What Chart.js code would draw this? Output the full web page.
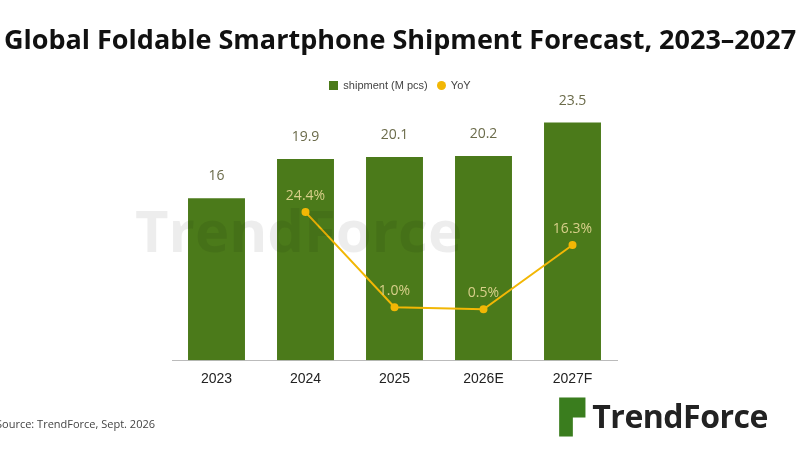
<!DOCTYPE html>
<html>
<head>
<meta charset="UTF-8">
<title>Global Foldable Smartphone Shipment Forecast</title>
<script src="https://cdn.jsdelivr.net/npm/chart.js@4"></script>
<style>
	body { margin: 0; background: #fff; font-family: "Open Sans", sans-serif; }
	#wrap { position: relative; width: 800px; height: 450px; overflow: hidden; }
	#title { position: absolute; top: 20px; left: -20px; width: 840px; text-align: center; font-size: 27px; font-weight: bold; color: #111; white-space: nowrap; }
	#legend { position: absolute; top: 79px; left: 0; width: 800px; text-align: center; font-size: 11px; color: #444; font-family: "Liberation Sans", sans-serif; }
	#legend i { display: inline-block; width: 9px; height: 9px; margin: 0 5px -1px 0; }
	#source { position: absolute; left: -4px; top: 416px; font-size: 11px; color: #444; }
	#logo { position: absolute; left: 560px; top: 394px; font-size: 32px; font-weight: bold; color: #222; letter-spacing: -0.5px; }
	#logo span { color: #3a7d1e; }
	#mark { position: absolute; left: 135px; top: 190px; font-size: 58px; font-weight: bold; color: rgba(0,0,0,0.07); }
</style>
</head>
<body>
<div id="wrap">
	<div id="title">Global Foldable Smartphone Shipment Forecast, 2023–2027</div>
	<div id="legend"><i style="background:#4b7a1a"></i>shipment (M pcs) &nbsp; <i style="background:#f2b705;border-radius:50%"></i>YoY</div>
	<div id="mark">TrendForce</div>
	<canvas id="chart-area" width="800" height="450"></canvas>
	<div id="source">Source: TrendForce, Sept. 2026</div>
	<div id="logo"><span>▛</span> TrendForce</div>
</div>
<script>
	var years = ['2023', '2024', '2025', '2026E', '2027F'];
	var shipment = [16, 19.9, 20.1, 20.2, 23.5];
	var yoy = [null, 24.4, 1.0, 0.5, 16.3];

	var labelPlugin = {
		id: 'labels',
		afterDatasetsDraw: function (chart) {
			var ctx = chart.ctx;
			ctx.save();
			ctx.textAlign = 'center';
			ctx.font = '14px "Open Sans"';
			chart.getDatasetMeta(1).data.forEach(function (b, i) {
				ctx.fillStyle = '#6b6b4a';
				ctx.fillText(shipment[i], b.x, b.y - 18);
			});
			chart.getDatasetMeta(0).data.forEach(function (p, i) {
				if (yoy[i] == null) return;
				ctx.fillStyle = '#d8cf8a';
				ctx.fillText(yoy[i].toFixed(1) + '%', p.x, p.y - 12);
			});
			ctx.restore();
		}
	};

	window.onload = function () {
		var ctx = document.getElementById('chart-area').getContext('2d');
		window.myChart = new Chart(ctx, {
			data: {
				labels: years,
				datasets: [{
					type: 'line', label: 'YoY', data: yoy, yAxisID: 'y1',
					borderColor: '#f2b705', backgroundColor: '#f2b705',
					borderWidth: 2, pointRadius: 3, tension: 0, order: 0
				}, {
					type: 'bar', label: 'shipment (M pcs)', data: shipment,
					backgroundColor: '#4b7a1a', categoryPercentage: 1, barPercentage: 0.64, order: 1
				}]
			},
			options: {
				responsive: false,
				animation: false,
				layout: { padding: { left: 172, right: 183, top: 77, bottom: 59 } },
				plugins: {
					legend: { display: false },
					tooltip: { enabled: false }
				},
				scales: {
					x: { grid: { display: false }, border: { color: '#bbb' }, ticks: { color: '#222', font: { size: 14 } } },
					y: { display: false, min: 0, max: 28 },
					y1: { display: false, min: -12, max: 57.6 }
				}
			},
			plugins: [labelPlugin]
		});
	};
</script>
</body>
</html>
